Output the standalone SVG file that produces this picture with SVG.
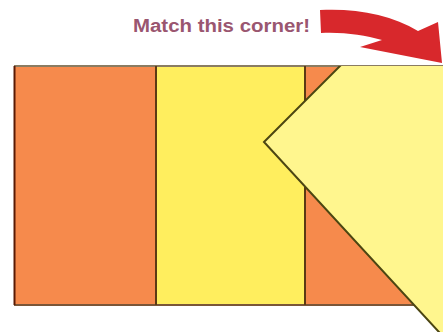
<svg xmlns="http://www.w3.org/2000/svg" width="443" height="332" viewBox="0 0 443 332">
<style>
.orange{fill:#F68A4C;}
.yellow{fill:#FFEE5E;}
.edge{stroke:#5C3A14;stroke-width:2;fill:none;}
.flap{fill:#FFF68E;stroke:#4C4612;stroke-width:2;stroke-linejoin:miter;}
.label{font-family:"Liberation Sans",Arial,sans-serif;font-weight:bold;font-size:18px;fill:#9A5670;}
</style>
<defs>
<clipPath id="belowTop"><rect x="0" y="66" width="443" height="266"/></clipPath>
</defs>
<rect width="443" height="332" fill="#FFFFFF"/>
<g id="strip-left">
<rect class="orange" x="14" y="66" width="142" height="239"/>
</g>
<g id="strip-middle">
<rect class="yellow" x="156" y="66" width="149" height="239"/>
</g>
<g id="strip-right">
<rect class="orange" x="305" y="66" width="138" height="239"/>
</g>
<g id="borders">
<line x1="14" y1="66" x2="443" y2="66" stroke="#8A7C62" stroke-width="2"/>
<line x1="14" y1="305" x2="443" y2="305" stroke="#7A5638" stroke-width="2"/>
<line x1="14.5" y1="66" x2="14.5" y2="305" stroke="#5A1A04" stroke-width="2"/>
<line class="edge" x1="156" y1="66" x2="156" y2="305"/>
<line class="edge" x1="305" y1="66" x2="305" y2="305"/>
</g>
<g id="flap" clip-path="url(#belowTop)">
<polygon class="flap" points="264,142 345,61 450,61 450,344"/>
</g>
<g id="label">
<text class="label" x="133" y="32" textLength="177" lengthAdjust="spacingAndGlyphs">Match this corner!</text>
</g>
<g id="connectors">
<path d="M320,10 C356,8 392,15 418,31 L438,22 L442,63 L360,47 L382,40 C364,35 344,32 321,33 Z" fill="#D8282C"/>
</g>
</svg>
